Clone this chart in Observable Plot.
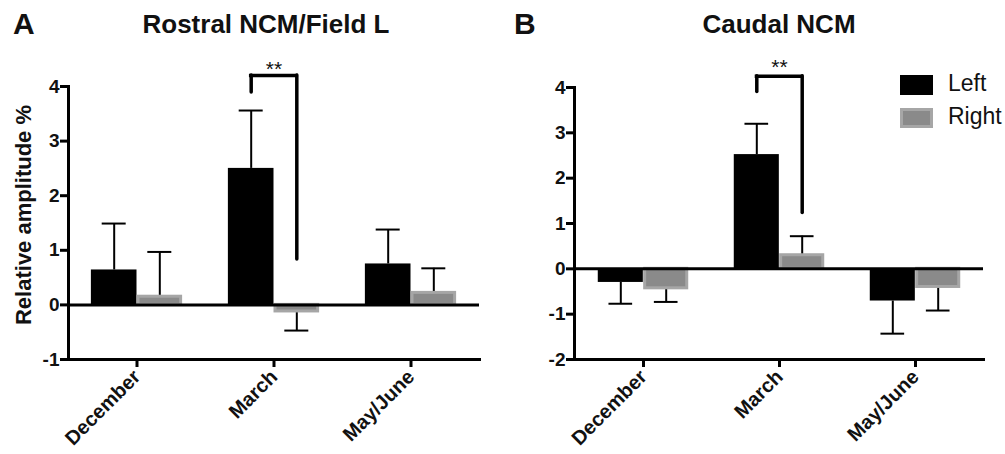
<!DOCTYPE html>
<html><head><meta charset="utf-8">
<script src="https://cdn.jsdelivr.net/npm/d3@7"></script>
<script src="https://cdn.jsdelivr.net/npm/@observablehq/plot@0.6"></script>
<style>
body{margin:0;background:#fff;font-family:"Liberation Sans",Arial,sans-serif;}
#wrap{position:relative;width:1005px;height:454px;overflow:hidden;background:#fff}
.panel{position:absolute;top:0}
.lbl{position:absolute;font-weight:bold;color:#111;line-height:1;white-space:nowrap}
.title{transform:translateX(-50%)}
.leg{position:absolute;font-size:23px;color:#111;line-height:1}
.sw{position:absolute;width:33px;height:20px;box-sizing:border-box}
svg [aria-label="y-axis tick"], svg [aria-label="x-axis tick"]{stroke-width:3px}
</style></head><body>
<div id="wrap">
  <div id="pa" class="panel" style="left:0px"></div>
  <div id="pb" class="panel" style="left:502px"></div>
  <div class="lbl" style="left:13px;top:9px;font-size:30px">A</div>
  <div class="lbl title" style="left:266px;top:11px;font-size:26px">Rostral NCM/Field L</div>
  <div class="lbl" style="left:514px;top:9px;font-size:30px">B</div>
  <div class="lbl title" style="left:779px;top:11px;font-size:26px">Caudal NCM</div>
  <div class="sw" style="left:900px;top:75px;background:#000"></div>
  <div class="leg" style="left:948px;top:72px">Left</div>
  <div class="sw" style="left:900px;top:108px;background:#8a8a8a;border:3px solid #a6a6a6"></div>
  <div class="leg" style="left:948px;top:105px">Right</div>
</div>
<script>
// ---- data ----
const months = ["December", "March", "May/June"];
const sides = ["Left", "Right"];

// Panel A: Rostral NCM/Field L
const aLeft = [0.64, 2.5, 0.75];
const aLeftErr = [1.49, 3.56, 1.38];
const aRight = [0.15, -0.12, 0.22];
const aRightErr = [0.97, -0.47, 0.67];
const aTicks = [-1, 0, 1, 2, 3, 4];
const aSig = {month: "March", top: 4.2, leftEnd: 3.89, rightEnd: 0.83, star: 4.2, label: "**"};

// Panel B: Caudal NCM
const bLeft = [-0.3, 2.52, -0.71];
const bLeftErr = [-0.77, 3.2, -1.43];
const bRight = [-0.43, 0.3, -0.4];
const bRightErr = [-0.73, 0.72, -0.92];
const bTicks = [-2, -1, 0, 1, 2, 3, 4];
const bSig = {month: "March", top: 4.25, leftEnd: 3.9, rightEnd: 1.23, star: 4.29, label: "**"};

const yLabel = "Relative amplitude %";

function rows(left, leftErr, right, rightErr) {
  const out = [];
  months.forEach((m, i) => {
    out.push({month: m, side: "Left", value: left[i], err: leftErr[i]});
    out.push({month: m, side: "Right", value: right[i], err: rightErr[i]});
  });
  return out;
}

function panel({data, ticks, sig, width, marginLeft, marginRight, marginTop, marginBottom, showYLabel}) {
  const height = 454;
  const bw = (width - marginLeft - marginRight) / months.length; // band width
  const barW = bw * 0.333;
  const off = barW / 2;
  const inset = (bw - barW) / 2;
  const capInset = (bw - 24) / 2;
  const L = data.filter(d => d.side === "Left");
  const R = data.filter(d => d.side === "Right");
  const marks = [
    // error bars
    Plot.ruleX(L, {x: "month", y1: "value", y2: "err", dx: -off, stroke: "#000", strokeWidth: 2}),
    Plot.tickY(L, {x: "month", y: "err", dx: -off, insetLeft: capInset, insetRight: capInset, stroke: "#000", strokeWidth: 2}),
    Plot.ruleX(R, {x: "month", y1: "value", y2: "err", dx: off, stroke: "#000", strokeWidth: 2}),
    Plot.tickY(R, {x: "month", y: "err", dx: off, insetLeft: capInset, insetRight: capInset, stroke: "#000", strokeWidth: 2}),
    // bars
    Plot.barY(L, {x: "month", y: "value", dx: -off, insetLeft: inset, insetRight: inset, fill: "#000"}),
    Plot.barY(R, {x: "month", y: "value", dx: off, insetLeft: inset + 1.5, insetRight: inset + 1.5, fill: "#8a8a8a", stroke: "#a6a6a6", strokeWidth: 3}),
    // zero line
    Plot.ruleY([0], {stroke: "#000", strokeWidth: 3}),
    // axes
    Plot.frame({anchor: "left", stroke: "#000", strokeWidth: 3}),
    Plot.frame({anchor: "bottom", stroke: "#000", strokeWidth: 3}),
    Plot.axisY({ticks, tickSize: 8, tickPadding: 1, tickFormat: d => String(d), strokeWidth: 3, stroke: "#000", fill: "#111", fontSize: 19, fontWeight: "bold", label: null}),
    Plot.axisX({tickSize: 8, tickPadding: 6, tickRotate: -45, strokeWidth: 3, stroke: "#000", fill: "#111", fontSize: 20, fontWeight: "bold", label: null}),
    // significance bracket
    Plot.tickY([sig], {x: "month", y: "top", insetLeft: bw / 2 - off - 1.75, insetRight: bw / 2 - off - 1.75, stroke: "#000", strokeWidth: 3.5}),
    Plot.ruleX([sig], {x: "month", y1: "leftEnd", y2: "top", dx: -off, stroke: "#000", strokeWidth: 3.5, strokeLinecap: "round"}),
    Plot.ruleX([sig], {x: "month", y1: "rightEnd", y2: "top", dx: off, stroke: "#000", strokeWidth: 3.5, strokeLinecap: "round"}),
    Plot.text([sig], {x: "month", y: "star", text: "label", fontSize: 21, fill: "#111", lineAnchor: "bottom"})
  ];
  if (showYLabel) {
    marks.push(Plot.text([yLabel], {frameAnchor: "left", textAnchor: "middle", rotate: -90, dx: -(marginLeft - 23), dy: -8, fontSize: 22, fontWeight: "bold", fill: "#111"}));
  }
  return Plot.plot({
    width, height, marginLeft, marginRight, marginTop, marginBottom,
    style: {fontFamily: "Liberation Sans, Arial, sans-serif", background: "transparent", overflow: "visible"},
    x: {type: "band", domain: months, padding: 0, axis: null},
    y: {domain: [ticks[0], ticks[ticks.length - 1]], axis: null},
    marks
  });
}

document.getElementById("pa").append(panel({
  data: rows(aLeft, aLeftErr, aRight, aRightErr), ticks: aTicks, sig: aSig,
  width: 502, marginLeft: 68, marginRight: 23, marginTop: 86, marginBottom: 95, showYLabel: true
}));
document.getElementById("pb").append(panel({
  data: rows(bLeft, bLeftErr, bRight, bRightErr), ticks: bTicks, sig: bSig,
  width: 503, marginLeft: 72, marginRight: 22, marginTop: 87, marginBottom: 95, showYLabel: false
}));
</script>
</body></html>
